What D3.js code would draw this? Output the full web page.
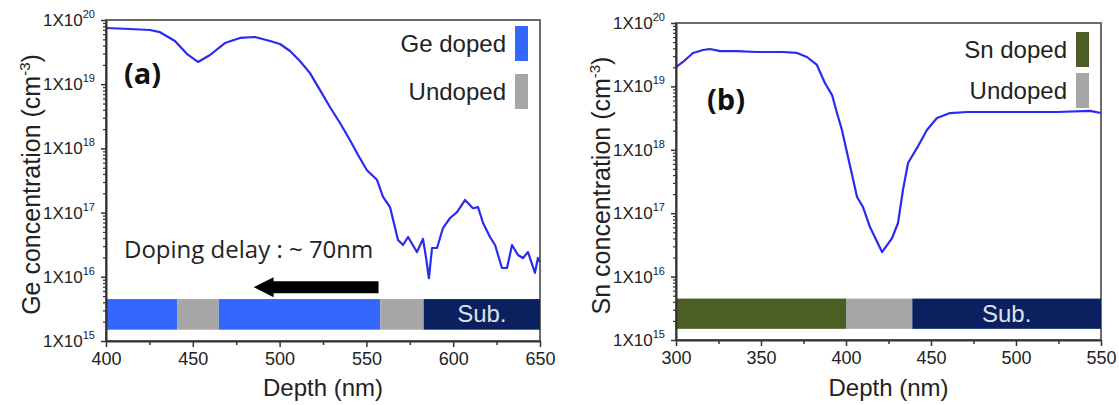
<!DOCTYPE html>
<html>
<head>
<meta charset="utf-8">
<script src="https://d3js.org/d3.v7.min.js"></script>
<style>
body { margin: 0; background: #fff; }
text { font-family: "Liberation Sans", Arial, sans-serif; fill: #222; }
</style>
</head>
<body>
<div id="chart"></div>
<script>
// Ge profile, panel (a)
var geDepth = [400, 413.8, 425.3, 431.1, 439.7, 446.7, 453, 459.9, 468.5, 477.2, 485.8, 494.5, 500.2, 506, 511.7,
    517.5, 523.3, 529, 534.8, 540.5, 545.2, 550.3, 556.1, 559.6, 563.6, 568.2, 571.1, 574, 579.1, 582.6, 584.3,
    586, 587.8, 590.7, 594.1, 598.2, 602.2, 606.8, 611.4, 614.3, 617.2, 621.2, 624.1, 628.1, 631, 633.9, 637.3,
    640.2, 643.1, 647.1, 648.8, 650]
var geConc = [7.5e19, 7.24e19, 6.98e19, 6.46e19, 4.71e19, 2.95e19, 2.22e19, 2.85e19, 4.37e19, 5.25e19, 5.43e19,
    4.71e19, 4.23e19, 3.29e19, 2.30e19, 1.49e19, 8.1e18, 4.42e18, 2.49e18, 1.35e18, 7.9e17, 4.57e17, 3.24e17,
    1.75e17, 1.22e17, 3.74e16, 3.13e16, 4.17e16, 2.43e16, 3.88e16, 2.03e16, 9.5e15, 2.81e16, 2.81e16, 5.75e16,
    8.24e16, 1.02e17, 1.57e17, 1.17e17, 1.22e17, 6.89e16, 4.17e16, 3.13e16, 1.37e16, 1.37e16, 3.13e16, 2.19e16,
    1.96e16, 2.43e16, 1.15e16, 1.96e16, 1.70e16]

// Sn profile, panel (b)
var snDepth = [300, 304.1, 310, 315.9, 320, 325.9, 335.9, 347.6, 362.9, 371.2, 377, 382.9, 387.6, 391.8, 394.7,
    397.6, 406.5, 410, 414.1, 421.2, 427.1, 430.6, 433.5, 436.5, 441.8, 447.6,
    453.5, 461.2, 471.2, 484.7, 504.1, 524.1, 543.5, 550]
var snConc = [2.02e19, 2.43e19, 3.37e19, 3.75e19, 3.89e19, 3.61e19, 3.61e19, 3.49e19, 3.49e19, 3.37e19, 2.91e19,
    2.18e19, 1.13e19, 7.3e18, 3.8e18, 2.05e18, 1.80e17, 1.25e17, 6.05e16, 2.44e16, 4.06e16, 7.0e16, 2.32e17,
    6.2e17, 1.07e18, 2.05e18, 3.18e18, 3.8e18, 3.95e18, 3.95e18, 3.95e18, 3.95e18, 4.1e18, 3.8e18]

var yTickExp = [15, 16, 17, 18, 19, 20]
var geTicks = [400, 450, 500, 550, 600, 650]
var snTicks = [300, 350, 400, 450, 500, 550]

// layer stack under each profile: [from, to, kind]
var geLayers = [[400, 441, "doped"], [441, 465, "undoped"], [465, 558, "doped"], [558, 583, "undoped"], [583, 650, "sub"]]
var snLayers = [[300, 400, "doped"], [400, 439, "undoped"], [439, 550, "sub"]]
var delayArrow = [557, 485]

var svg = d3.select("#chart").append("svg")
    .attr("width", 1119)
    .attr("height", 405)

var lineColor = "#2a2af2"
var grey = "#a6a6a6"
var navy = "#0b205f"

function drawPanel(p) {
    var x = d3.scaleLinear().domain([p.xTicks[0], p.xTicks[p.xTicks.length - 1]]).range([p.left, p.right])
    var y = d3.scaleLog().domain([1e15, 1e20]).range([p.bottom, p.top])
    var g = svg.append("g")

    // frame
    g.append("rect")
        .attr("x", p.left).attr("y", p.top)
        .attr("width", p.right - p.left).attr("height", p.bottom - p.top)
        .attr("fill", "none").attr("stroke", "#6a6a6a").attr("stroke-width", 2)

    // layer bars
    var colors = { doped: p.dopedColor, undoped: grey, sub: navy }
    g.selectAll(".layer")
        .data(p.layers)
        .enter()
        .append("rect")
        .attr("x", d => x(d[0]))
        .attr("y", y(4.5e15))
        .attr("width", d => x(d[1]) - x(d[0]))
        .attr("height", y(1.5e15) - y(4.5e15))
        .attr("fill", d => colors[d[2]])
    var sub = p.layers.filter(d => d[2] == "sub")[0]
    g.append("text")
        .attr("x", (x(sub[0]) + x(sub[1])) / 2)
        .attr("y", y(2.6e15) + 8)
        .attr("text-anchor", "middle")
        .style("font-size", "24px")
        .style("fill", "#dfe2ec")
        .text("Sub.")

    // profile
    var line = d3.line()
        .x(d => x(d[0]))
        .y(d => y(d[1]))
    g.append("path")
        .datum(d3.zip(p.depth, p.conc))
        .attr("d", line)
        .attr("fill", "none")
        .attr("stroke", lineColor)
        .attr("stroke-width", 2.2)
        .attr("stroke-linejoin", "round")

    // y axis
    var minors = []
    yTickExp.slice(0, -1).forEach(e => {
        for (var k = 2; k < 10; k++) minors.push(k * Math.pow(10, e))
    })
    g.append("g")
        .attr("transform", `translate(${p.left},0)`)
        .call(d3.axisLeft(y).tickValues(minors).tickSize(3).tickFormat(""))
        .call(a => a.select(".domain").remove())
        .selectAll("line").attr("stroke", "#333").attr("stroke-width", 1.2)
    var ya = g.append("g")
        .attr("transform", `translate(${p.left},0)`)
        .call(d3.axisLeft(y).tickValues(yTickExp.map(e => Math.pow(10, e))).tickSize(5).tickSizeOuter(0).tickPadding(6))
    ya.select(".domain").attr("stroke", "#333").attr("stroke-width", 2)
    ya.selectAll("line").attr("stroke", "#333").attr("stroke-width", 1.5)
    ya.selectAll(".tick text")
        .text(null)
        .style("font-size", "17px")
        .attr("fill", "#333")
        .each(function (d) {
            var t = d3.select(this)
            t.append("tspan").text("1X10")
            t.append("tspan").attr("dy", -8).style("font-size", "11px").text(Math.round(Math.log10(d)))
        })

    // x axis
    var xMinor = p.xTicks.slice(0, -1).map(v => v + 25)
    g.append("g")
        .attr("transform", `translate(0,${p.bottom})`)
        .call(d3.axisBottom(x).tickValues(xMinor).tickSize(4).tickFormat(""))
        .call(a => a.select(".domain").remove())
        .selectAll("line").attr("stroke", "#333").attr("stroke-width", 1.5)
    var xa = g.append("g")
        .attr("transform", `translate(0,${p.bottom})`)
        .call(d3.axisBottom(x).tickValues(p.xTicks).tickSize(6).tickSizeOuter(0).tickPadding(5))
    xa.select(".domain").attr("stroke", "#333").attr("stroke-width", 2)
    xa.selectAll("line").attr("stroke", "#333").attr("stroke-width", 1.5)
    xa.selectAll(".tick text").style("font-size", "18px").attr("fill", "#333")

    // titles
    g.append("text")
        .attr("x", (p.left + p.right) / 2)
        .attr("y", 396)
        .attr("text-anchor", "middle")
        .style("font-size", "24px")
        .text("Depth (nm)")
    var yt = g.append("text")
        .attr("transform", `translate(${p.left - 66},${(p.top + p.bottom) / 2 + 4}) rotate(-90)`)
        .attr("text-anchor", "middle")
        .style("font-size", "25px")
    yt.append("tspan").text(p.element + " concentration (cm")
    yt.append("tspan").attr("dy", -10).style("font-size", "15px").text("-3")
    yt.append("tspan").attr("dy", 10).text(")")

    g.append("text")
        .attr("x", p.labelX).attr("y", p.labelY)
        .style("font-family", "'Open Sans', 'Noto Sans', sans-serif")
        .style("font-size", "29px")
        .style("font-weight", "bold")
        .style("fill", "#111")
        .text(p.label)

    // legend
    var legend = [[p.element + " doped", p.dopedColor], ["Undoped", grey]]
    legend.forEach((d, i) => {
        var top = p.legendTop + i * p.legendGap
        g.append("rect")
            .attr("x", p.right - 25).attr("y", top)
            .attr("width", 13).attr("height", 35)
            .attr("fill", d[1])
        g.append("text")
            .attr("x", p.right - 34).attr("y", top + 26)
            .attr("text-anchor", "end")
            .style("font-size", "24px")
            .text(d[0])
    })
    return { x: x, y: y, g: g }
}

var a = drawPanel({
    left: 106, right: 540, top: 20, bottom: 341, xTicks: geTicks,
    depth: geDepth, conc: geConc, layers: geLayers, dopedColor: "#3467fb",
    element: "Ge", label: "(a)", labelX: 124, labelY: 84, legendTop: 26, legendGap: 48
})
var b = drawPanel({
    left: 676, right: 1101, top: 23, bottom: 340, xTicks: snTicks,
    depth: snDepth, conc: snConc, layers: snLayers, dopedColor: "#4b5e24",
    element: "Sn", label: "(b)", labelX: 707, labelY: 110, legendTop: 32, legendGap: 41
})

// doping delay arrow in panel (a)
var ay = a.y(6.9e15)
var x0 = a.x(delayArrow[0]), x1 = a.x(delayArrow[1])
a.g.append("path")
    .attr("d", `M${x0},${ay - 6} L${x1 + 20},${ay - 6} L${x1 + 20},${ay - 10} L${x1},${ay} L${x1 + 20},${ay + 10} L${x1 + 20},${ay + 6} L${x0},${ay + 6} Z`)
    .attr("fill", "#000")
a.g.append("text")
    .attr("x", 124).attr("y", 258)
    .style("font-family", "'Open Sans', 'Noto Sans', sans-serif")
    .style("font-size", "24px")
    .style("fill", "#222")
    .text("Doping delay : ~ 70nm")
</script>
</body>
</html>
